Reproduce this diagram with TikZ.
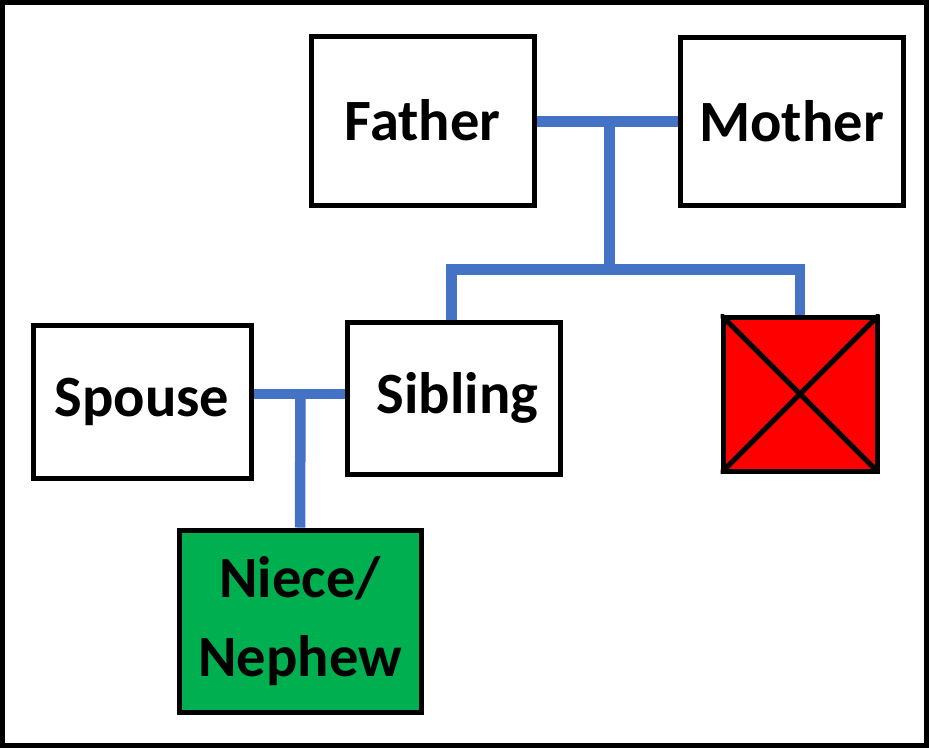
\documentclass[tikz,border=0pt]{standalone}
\usepackage{fontspec}
\setmainfont{Carlito}
\usepackage{xcolor}
\usepackage{tikz}
\usetikzlibrary{calc}
\definecolor{kinblue}{RGB}{68,114,196}
\definecolor{kingreen}{RGB}{0,176,80}
\definecolor{kinred}{RGB}{255,0,0}

\begin{document}
\begin{tikzpicture}[
    x=1pt, y=-1pt,
    personbox/.style={draw, line width=5pt, inner sep=0pt, align=center, font=\fontsize{58.5}{79}\selectfont\bfseries},
    kinline/.style={draw=kinblue, line width=10.5pt, line join=miter},
]
    \useasboundingbox (0,0) rectangle (929,748);
    \draw[line width=5pt] (2.5,2.5) rectangle (926.5,745.5);

    \node[personbox, minimum width=223pt, minimum height=169pt] (father) at (422.5,120.5) {Father};
    \node[personbox, minimum width=223pt, minimum height=168pt] (mother) at (791.5,121) {Mother};
    \node[personbox, minimum width=218pt, minimum height=153pt] (spouse) at (142,401.5) {Spouse};
    \node[personbox, minimum width=213pt, minimum height=152pt] (sibling) at (453.5,398) {\hspace*{8pt}Sibling};
    \node[personbox, fill=kinred, minimum width=154pt, minimum height=154pt] (lost) at (800,394) {};
    \node[personbox, fill=kingreen, minimum width=242pt, minimum height=182pt] (niece) at (300,621) {Niece/\\Nephew};

    \begin{scope}
        \clip (lost.north west) rectangle (lost.south east);
        \draw[line width=5pt] (lost.north west) -- (lost.south east);
        \draw[line width=5pt] (lost.north east) -- (lost.south west);
    \end{scope}

    \coordinate (parents) at (609.5,121.5);
    \coordinate (bar) at (609.5,269.5);
    \coordinate (couple) at (300.5,394);

    \draw[kinline] (father.east |- parents) -- (mother.west |- parents);
    \draw[kinline] (parents) -- (bar);
    \draw[kinline] (sibling.north -| 451.5,0) |- (bar) -| (lost.north);
    \draw[kinline] (spouse.east |- couple) -- (sibling.west |- couple);
    \draw[kinline] (couple) -- (niece.north);
\end{tikzpicture}
\end{document}
